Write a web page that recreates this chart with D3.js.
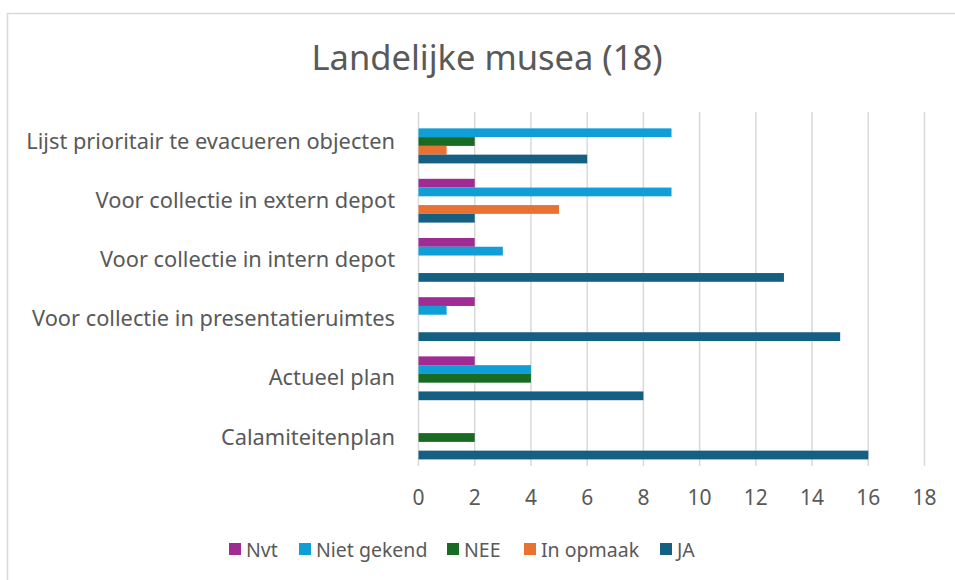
<!DOCTYPE html>
<html>
<head>
<meta charset="utf-8">
<script src="https://cdn.jsdelivr.net/npm/d3@7"></script>
<style>
  body { margin: 0; background: #fff; }
  text { font-family: "Noto Sans", "Open Sans", sans-serif; fill: #595959; }
</style>
</head>
<body>
<div id="chart"></div>
<script>
const categories = [
    "Lijst prioritair te evacueren objecten",
    "Voor collectie in extern depot",
    "Voor collectie in intern depot",
    "Voor collectie in presentatieruimtes",
    "Actueel plan",
    "Calamiteitenplan"
];
const seriesNames = ["Nvt", "Niet gekend", "NEE", "In opmaak", "JA"];
const seriesColors = ["#A02B93", "#0F9ED5", "#196B24", "#E97132", "#156082"];

const nvt        = [0, 2, 2, 2, 2, 0];
const nietGekend = [9, 9, 3, 1, 4, 0];
const nee        = [2, 0, 0, 0, 4, 2];
const inOpmaak   = [1, 5, 0, 0, 0, 0];
const ja         = [6, 2, 13, 15, 8, 16];
const seriesValues = [nvt, nietGekend, nee, inOpmaak, ja];

const xTicks = [0, 2, 4, 6, 8, 10, 12, 14, 16, 18];

const width = 955, height = 580;

const svg = d3.select("#chart")
    .append("svg")
    .attr("width", width)
    .attr("height", height);

// chart area border
svg.append("rect")
    .attr("x", 7.5).attr("y", 13.5)
    .attr("width", 970).attr("height", 620)
    .attr("fill", "#fff")
    .attr("stroke", "#d9d9d9")
    .attr("stroke-width", 1.5);

const x = d3.scaleLinear().domain([0, 18]).range([418.5, 924.5]);

const y = d3.scaleBand()
    .domain(categories)
    .range([111.9, 467.1])
    .paddingInner(0.26)
    .paddingOuter(0.13);

const ySub = d3.scaleBand()
    .domain(seriesNames)
    .range([0, y.bandwidth()]);

// title
svg.append("text")
    .attr("x", 487)
    .attr("y", 56)
    .attr("text-anchor", "middle")
    .attr("dominant-baseline", "central")
    .style("font-size", "34.5px")
    .text("Landelijke musea (18)");

// gridlines
svg.append("g")
    .selectAll("line")
    .data(xTicks)
    .enter()
    .append("line")
    .attr("x1", d => x(d)).attr("x2", d => x(d))
    .attr("y1", 112).attr("y2", 466)
    .attr("stroke", "#d9d9d9")
    .attr("stroke-width", 1.5);

// bars
const groups = svg.append("g")
    .selectAll("g")
    .data(categories)
    .enter()
    .append("g")
    .attr("transform", d => `translate(0, ${y(d)})`);

groups.selectAll("rect")
    .data((d, i) => seriesNames.map((s, j) => ({ series: s, value: seriesValues[j][i], color: seriesColors[j] })))
    .enter()
    .filter(d => d.value > 0)
    .append("rect")
    .attr("x", x(0))
    .attr("y", d => ySub(d.series))
    .attr("width", d => x(d.value) - x(0))
    .attr("height", ySub.bandwidth())
    .attr("fill", d => d.color);

// category labels
svg.append("g")
    .selectAll("text")
    .data(categories)
    .enter()
    .append("text")
    .attr("x", 395)
    .attr("y", d => y(d) + y.bandwidth() / 2 - 1.4)
    .attr("text-anchor", "end")
    .attr("dominant-baseline", "central")
    .style("font-size", "21.8px")
    .text(d => d);

// x tick labels
svg.append("g")
    .selectAll("text")
    .data(xTicks)
    .enter()
    .append("text")
    .attr("x", d => x(d))
    .attr("y", 497)
    .attr("text-anchor", "middle")
    .attr("dominant-baseline", "central")
    .style("font-size", "21px")
    .text(d => d);

// legend
const legendX = [229, 299, 447, 524, 660];
const legend = svg.append("g")
    .selectAll("g")
    .data(seriesNames)
    .enter()
    .append("g")
    .attr("transform", (d, i) => `translate(${legendX[i]}, 549)`);

legend.append("rect")
    .attr("x", 0).attr("y", -6)
    .attr("width", 12).attr("height", 12)
    .attr("fill", (d, i) => seriesColors[i]);

legend.append("text")
    .attr("x", 17)
    .attr("y", 0)
    .attr("dominant-baseline", "central")
    .style("font-size", "19.5px")
    .text(d => d);
</script>
</body>
</html>
